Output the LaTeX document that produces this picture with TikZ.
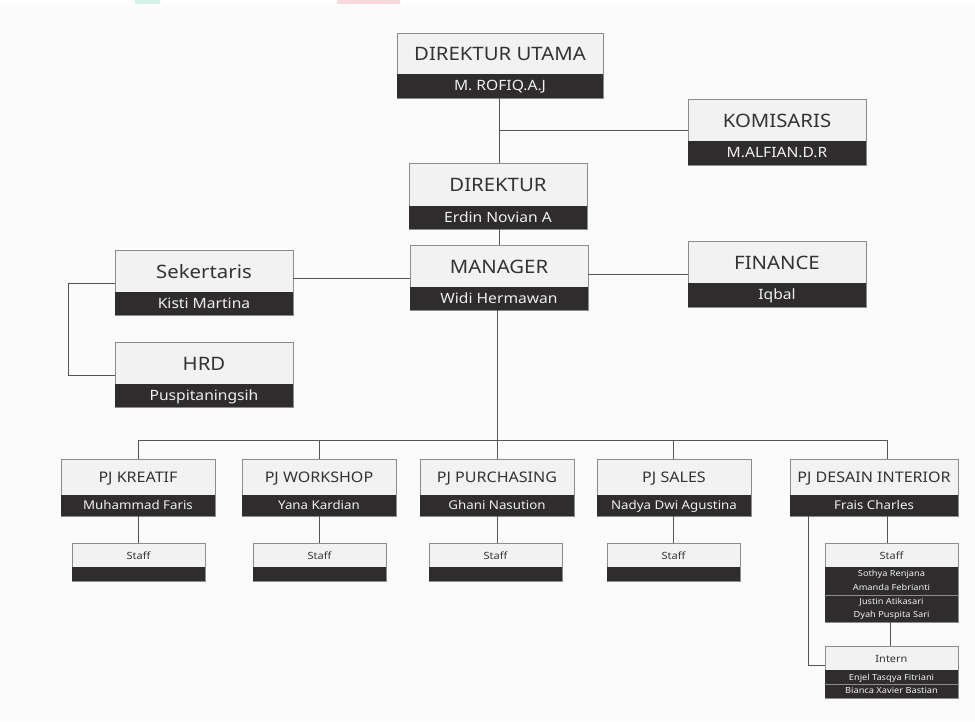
\documentclass[tikz,border=0pt]{standalone}
\usepackage{fontspec}
\setmainfont[FakeStretch=1.1]{Noto Sans}
\definecolor{paper}{HTML}{FBFBFB}
\definecolor{panel}{HTML}{F2F2F2}
\definecolor{dark}{HTML}{2F2C2D}
\definecolor{rim}{HTML}{8C8C8C}
\definecolor{wire}{HTML}{555555}
\definecolor{ink}{HTML}{333333}
\definecolor{pale}{HTML}{F0F0F0}
\definecolor{mint}{HTML}{D5F2E6}
\definecolor{blush}{HTML}{F9D9DC}
\tikzset{
  wirep/.style={draw=wire,line width=0.9pt},
  bodybox/.style={draw=rim,line width=0.9pt,fill=panel,inner sep=0pt,outer sep=0pt},
  darkbar/.style={fill=dark,inner sep=0pt,outer sep=0pt},
  rule/.style={draw=#1,line width=0.8pt},
  titletxt/.style={text=ink,inner sep=0pt,anchor=center},
  nametxt/.style={text=pale,inner sep=0pt,anchor=center},
}
% centres a line on its capital height, whatever its descenders
\newcommand{\capt}[1]{\vphantom{A}\smash{#1}}
% name, x1, y1, split y, x2, y2, title, name text
\newcommand{\orgcard}[8]{%
  \node[bodybox,minimum width=#5pt-#2pt,minimum height=#6pt-#3pt] (#1) at ({(#2+#5)/2},{(#3+#6)/2}) {};
  \node[darkbar,minimum width=#5pt-#2pt,minimum height=#6pt-#4pt] (#1-bar) at ({(#2+#5)/2},{(#4+#6)/2}) {};
  \node[titletxt] (#1-title) at ({(#2+#5)/2},{(#3+#4)/2+0.5}) {#7};
  \node[nametxt] (#1-name) at ({(#2+#5)/2},{(#4+#6)/2-0.5}) {#8};
}
\newcommand{\fbig}{\fontsize{18.5}{22}\selectfont}
\newcommand{\fnm}{\fontsize{14.2}{17}\selectfont}
\newcommand{\fpj}{\fontsize{14.6}{18}\selectfont}
\newcommand{\fpn}{\fontsize{12.1}{14}\selectfont}
\newcommand{\fst}{\fontsize{10}{12}\selectfont}
\newcommand{\ftiny}{\fontsize{8.4}{10}\selectfont}
\begin{document}
\begin{tikzpicture}[x=1pt,y=-1pt]
\useasboundingbox (0,0) rectangle (975,721);
\fill[white] (0,0) rectangle (975,721);
\fill[paper] (0,5) rectangle (975,721);
\fill[mint] (135,0) rectangle (160,4);
\fill[blush] (337,0) rectangle (400,4);

\orgcard{dirut}{397}{33}{74}{603}{98}{\fbig\capt{DIREKTUR UTAMA}}{\fnm\capt{M. ROFIQ.A.J}}
\orgcard{komisaris}{688}{99}{141}{866}{165}{\fbig\capt{KOMISARIS}}{\fnm\capt{M.ALFIAN.D.R}}
\orgcard{direktur}{409}{163}{206}{587}{229}{\fbig\capt{DIREKTUR}}{\fnm\capt{Erdin Novian A}}
\orgcard{manager}{410}{245}{287}{588}{310}{\fbig\capt{MANAGER}}{\fnm\capt{Widi Hermawan}}
\orgcard{finance}{688}{241}{283}{866}{307}{\fbig\capt{FINANCE}}{\fnm\capt{Iqbal}}
\orgcard{sekertaris}{115}{250}{292}{293}{315}{\fbig\capt{Sekertaris}}{\fnm\capt{Kisti Martina}}
\orgcard{hrd}{115}{342}{384}{293}{407}{\fbig\capt{HRD}}{\fnm\capt{Puspitaningsih}}

\orgcard{kreatif}{61}{459}{495}{215}{516}{\fpj\capt{PJ KREATIF}}{\fpn\capt{Muhammad Faris}}
\orgcard{workshop}{242}{459}{495}{396}{516}{\fpj\capt{PJ WORKSHOP}}{\fpn\capt{Yana Kardian}}
\orgcard{purchasing}{420}{459}{495}{574}{516}{\fpj\capt{PJ PURCHASING}}{\fpn\capt{Ghani Nasution}}
\orgcard{sales}{597}{459}{495}{751}{516}{\fpj\capt{PJ SALES}}{\fpn\capt{Nadya Dwi Agustina}}
\orgcard{desain}{790}{459}{495}{958}{516}{\fpj\capt{PJ DESAIN INTERIOR}}{\fpn\capt{Frais Charles}}

\orgcard{stA}{72}{543}{567}{205}{581}{\fst\bfseries\capt{Staff}}{}
\orgcard{stB}{253}{543}{567}{386}{581}{\fst\capt{Staff}}{}
\orgcard{stC}{429}{543}{567}{562}{581}{\fst\capt{Staff}}{}
\orgcard{stD}{607}{543}{567}{740}{581}{\fst\capt{Staff}}{}
\orgcard{stE}{825}{543}{567}{958}{622}{\fst\capt{Staff}}{}
\orgcard{intern}{825}{646}{670}{958}{698}{\fst\capt{Intern}}{}

\draw[rule=rim] (stE-bar.west |- 0,595) -- (stE-bar.east |- 0,595);
\draw[rule=rim] (intern-bar.west |- 0,684) -- (intern-bar.east |- 0,684);
\node[nametxt,font=\ftiny] (n1) at (891.5,573.5) {\capt{Sothya Renjana}};
\node[nametxt,font=\ftiny] (n2) at (891.5,587) {\capt{Amanda Febrianti}};
\node[nametxt,font=\ftiny] (n3) at (891.5,601) {\capt{Justin Atikasari}};
\node[nametxt,font=\ftiny] (n4) at (891.5,614.5) {\capt{Dyah Puspita Sari}};
\node[nametxt,font=\ftiny] (n5) at (891.5,677) {\capt{Enjel Tasqya Fitriani}};
\node[nametxt,font=\ftiny] (n6) at (891.5,690) {\capt{Bianca Xavier Bastian}};

\coordinate (busY) at (0,440);
\draw[wirep] (499,0 |- dirut.south) -- (499,0 |- direktur.north);
\draw[wirep] (499,130) -- (komisaris.west |- 0,130);
\draw[wirep] (499,0 |- direktur.south) -- (499,0 |- manager.north);
\draw[wirep] (manager.east |- 0,274) -- (finance.west |- 0,274);
\draw[wirep] (sekertaris.east |- 0,278) -- (manager.west |- 0,278);
\draw[wirep] (sekertaris.west |- 0,283) -- (68,283) -- (68,375) -- (hrd.west |- 0,375);
\draw[wirep] (497,0 |- manager.south) -- (497,0 |- busY);
\draw[wirep] (kreatif.north) -- (kreatif.north |- busY) -- (887,0 |- busY) -- (887,0 |- desain.north);
\draw[wirep] (319,0 |- workshop.north) -- (319,0 |- busY);
\draw[wirep] (497,0 |- purchasing.north) -- (497,0 |- busY);
\draw[wirep] (673,0 |- sales.north) -- (673,0 |- busY);
\draw[wirep] (kreatif.south -| stA.north) -- (stA.north);
\draw[wirep] (319,0 |- workshop.south) -- (319,0 |- stB.north);
\draw[wirep] (497,0 |- purchasing.south) -- (497,0 |- stC.north);
\draw[wirep] (673,0 |- sales.south) -- (673,0 |- stD.north);
\draw[wirep] (887,0 |- desain.south) -- (887,0 |- stE.north);
\draw[wirep] (890,0 |- stE.south) -- (890,0 |- intern.north);
\draw[wirep] (808,0 |- desain.south) -- (808,665) -- (intern.west |- 0,665);
\end{tikzpicture}
\end{document}
